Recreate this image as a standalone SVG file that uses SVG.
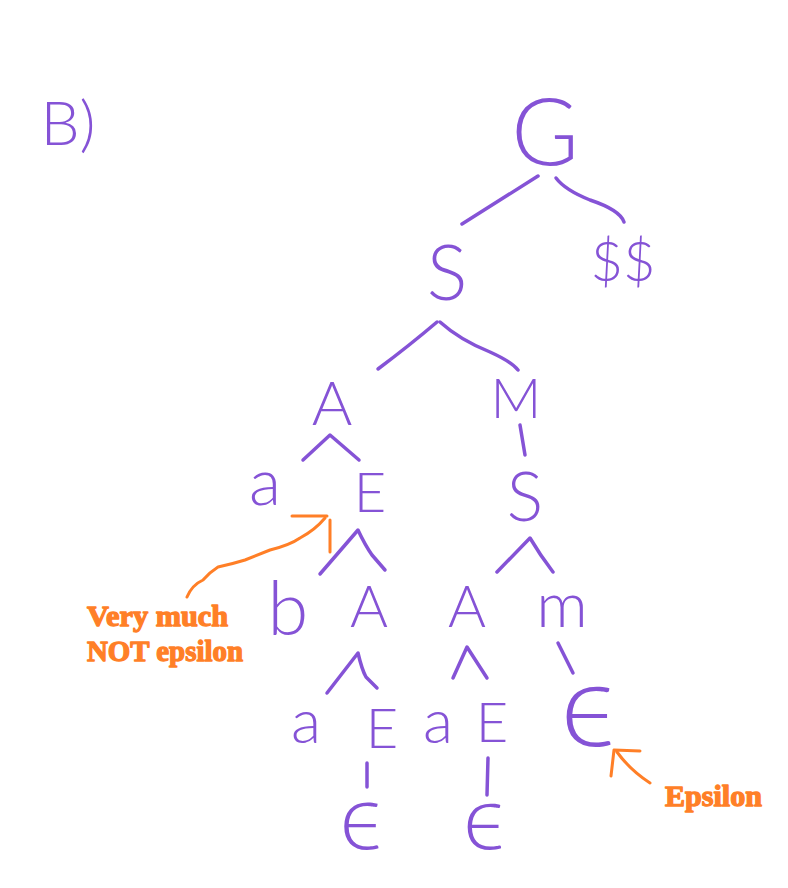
<svg xmlns="http://www.w3.org/2000/svg" width="788" height="888" viewBox="0 0 788 888">
<style>
.n{font-family:"Lato","Open Sans","Noto Sans",sans-serif;font-weight:300;fill:#8553d6;text-anchor:middle}
.e{font-family:"Lato","Noto Sans","Open Sans",sans-serif;font-weight:300;fill:#8553d6;text-anchor:middle}
.c path{fill:none;stroke:#8553d6;stroke-width:3.5;stroke-linecap:round;stroke-linejoin:round}
.o path{fill:none;stroke:#ff7f27;stroke-width:3;stroke-linecap:round;stroke-linejoin:round}
.ot{font-family:"Liberation Serif",serif;font-weight:900;fill:#ff7f27;stroke:#ff7f27;stroke-width:1.3;stroke-linejoin:round}
</style>
<rect width="788" height="888" fill="#fff"/>
<text class="n" x="68" y="145" font-size="62">B)</text>
<g id="G"><text class="n" x="545" y="165" font-size="92">G</text></g>
<g id="S1"><text class="n" x="447" y="300" font-size="76">S</text></g>
<g id="dollars"><text class="n" x="623" y="281" font-size="56">$$</text></g>
<g id="A1"><text class="n" x="332" y="425" font-size="62">A</text></g>
<g id="M1"><text class="n" x="516" y="418" font-size="56">M</text></g>
<g id="a1"><text class="n" x="265" y="505" font-size="66">a</text></g>
<g id="E1"><text class="n" x="370" y="512" font-size="56">E</text></g>
<g id="S2"><text class="n" x="525" y="521" font-size="68">S</text></g>
<g id="b1"><text class="n" x="288" y="635" font-size="74">b</text></g>
<g id="A2"><text class="n" x="369" y="627" font-size="58">A</text></g>
<g id="A3"><text class="n" x="467" y="627" font-size="58">A</text></g>
<g id="m1"><text class="n" x="562" y="627" font-size="64">m</text></g>
<g id="a2"><text class="n" x="306" y="743" font-size="62">a</text></g>
<g id="E2"><text class="n" x="382" y="748" font-size="56">E</text></g>
<g id="a3"><text class="n" x="438" y="743" font-size="62">a</text></g>
<g id="E3"><text class="n" x="492" y="742" font-size="56">E</text></g>
<g id="eps1"><text class="e" x="588" y="746" font-size="118">ϵ</text></g>
<g id="eps2"><text class="e" x="361" y="849" font-size="92">ϵ</text></g>
<g id="eps3"><text class="e" x="484" y="849" font-size="90">ϵ</text></g>
<g id="connectors" class="c">
<path d="M538 176 Q500 200 462 224"/>
<path d="M556 178 Q565 190 590 200 Q620 210 624 222"/>
<path d="M437 322 Q410 345 378 369"/>
<path d="M440 322 Q460 340 490 352 Q512 362 518 370"/>
<path d="M303 460 L330 435 L359 460"/>
<path d="M520 425 L525 455"/>
<path d="M320 574 L358 530 Q365 545 372 555 L385 570"/>
<path d="M497 572 L530 538 Q540 555 553 572"/>
<path d="M327 693 L358 653 Q362 670 366 677 L377 688"/>
<path d="M453 678 L467 647 L487 678"/>
<path d="M558 643 L573 673"/>
<path d="M367 763 L367 787"/>
<path d="M488 758 L487 795"/>
</g>
<g id="notes" class="o">
<path d="M292 516 L327 516"/>
<path d="M330 520 L330 552"/>
<path d="M187 597 Q192 585 203 580 Q210 572 218 567 Q232 564 245 560 Q260 554 270 550 Q290 545 300 538 Q315 530 325 518"/>
<path d="M650 783 Q630 770 617 752"/>
<path d="M611 776 L614 750 L640 751"/>
</g>
<text class="ot" x="87" y="626" font-size="29" textLength="141" lengthAdjust="spacingAndGlyphs">Very much</text>
<text class="ot" x="87" y="661" font-size="29" textLength="156" lengthAdjust="spacingAndGlyphs">NOT epsilon</text>
<text class="ot" x="665" y="806" font-size="29" textLength="97" lengthAdjust="spacingAndGlyphs">Epsilon</text>
</svg>
